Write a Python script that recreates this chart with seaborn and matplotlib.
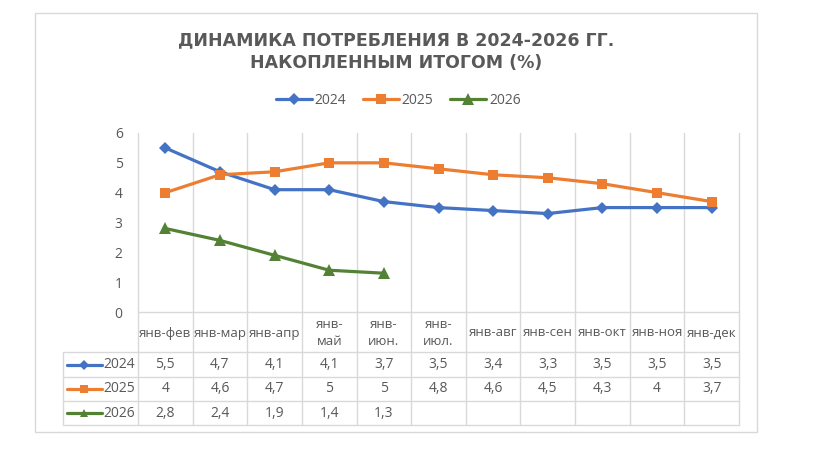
import numpy as np
import pandas as pd
import matplotlib.pyplot as plt
import seaborn as sns
from matplotlib.patches import Rectangle

# Data
periods = ["янв-фев", "янв-мар", "янв-апр", "янв-май", "янв-июн.", "янв-июл.",
           "янв-авг", "янв-сен", "янв-окт", "янв-ноя", "янв-дек"]
period_labels = ["янв-фев", "янв-мар", "янв-апр", "янв-\nмай", "янв-\nиюн.", "янв-\nиюл.",
                 "янв-авг", "янв-сен", "янв-окт", "янв-ноя", "янв-дек"]
years = ["2024", "2025", "2026"]
v2024 = [5.5, 4.7, 4.1, 4.1, 3.7, 3.5, 3.4, 3.3, 3.5, 3.5, 3.5]
v2025 = [4, 4.6, 4.7, 5, 5, 4.8, 4.6, 4.5, 4.3, 4, 3.7]
v2026 = [2.8, 2.4, 1.9, 1.4, 1.3, np.nan, np.nan, np.nan, np.nan, np.nan, np.nan]

colors = {"2024": "#4472C4", "2025": "#ED7D31", "2026": "#548235"}
markers = {"2024": "D", "2025": "s", "2026": "^"}
msizes = {"2024": 6.5, "2025": 7.5, "2026": 8}

sns.set_theme(style="white")
plt.rcParams['font.family'] = ['Open Sans', 'DejaVu Sans']
txt = "#595959"
grid = "#D9D9D9"

rows = []
for y, vals in zip(years, [v2024, v2025, v2026]):
    for i, (p, v) in enumerate(zip(periods, vals)):
        rows.append({"year": y, "pos": i, "period": p, "value": v})
df = pd.DataFrame(rows).dropna()

W, H = 831, 470
fig = plt.figure(figsize=(W / 100, H / 100), dpi=100)

# pixel layout
pl, pr, pt, pb = 138, 739, 133, 312
colw = (pr - pl) / len(periods)

def fx(x):
    return x / W

def fy(y):
    return 1 - y / H

# overlay for frame and data table (pixel coords)
tax = fig.add_axes([0, 0, 1, 1])
tax.set_xlim(0, W)
tax.set_ylim(H, 0)
tax.axis("off")
tax.add_patch(Rectangle((35, 13), 722, 419, fill=False, ec=grid, lw=1))

ax = fig.add_axes([fx(pl), fy(pb), (pr - pl) / W, (pb - pt) / H])
for y in years:
    sub = df[df["year"] == y]
    sns.lineplot(data=sub, x="pos", y="value", ax=ax, color=colors[y], lw=2.3,
                 marker=markers[y], markersize=msizes[y], markeredgewidth=0,
                 legend=False, label=y)
ax.set_xlim(-0.5, len(periods) - 0.5)
ax.set_ylim(0, 6)
ax.set_yticks(range(7))
ax.set_xticks([])
ax.set_xlabel("")
ax.set_ylabel("")
ax.tick_params(axis="y", length=0, pad=11, labelsize=10, labelcolor=txt)
for s in ax.spines.values():
    s.set_visible(False)
ax.patch.set_alpha(0)

# vertical grid lines through plot and table
for k in range(len(periods) + 1):
    x = pl + k * colw
    tax.plot([x, x], [pt, 425], color=grid, lw=1, zorder=0)
tax.plot([63, 63], [352, 425], color=grid, lw=1, zorder=0)
tax.plot([pl, pr], [pb, pb], color=grid, lw=1, zorder=0)
for yy in [352, 377, 401, 425]:
    tax.plot([63, pr], [yy, yy], color=grid, lw=1, zorder=0)

# category header row
for i, lab in enumerate(period_labels):
    tax.text(pl + (i + 0.5) * colw, 333, lab, ha="center", va="center",
             fontsize=9.5, color=txt, linespacing=1.35)

# data rows
series = {"2024": v2024, "2025": v2025, "2026": v2026}
for r, y in enumerate(years):
    yc = 364.5 + r * 24.3
    tax.plot([67, 102], [yc, yc], color=colors[y], lw=2.3)
    tax.plot([84], [yc], marker=markers[y], color=colors[y],
             markersize=msizes[y] * 0.75, markeredgewidth=0)
    tax.text(135, yc, y, ha="right", va="center", fontsize=10, color=txt)
    for i, v in enumerate(series[y]):
        if not np.isnan(v):
            s = f"{v:g}".replace(".", ",")
            tax.text(pl + (i + 0.5) * colw, yc, s, ha="center", va="center",
                     fontsize=10, color=txt)

# title
for yy, line in [(40, "ДИНАМИКА ПОТРЕБЛЕНИЯ В 2024-2026 ГГ."), (63, "НАКОПЛЕННЫМ ИТОГОМ (%)")]:
    fig.text(fx(396), fy(yy), line, ha="center", va="center", family="DejaVu Sans",
             fontsize=12.5, fontweight="bold", color=txt)

# legend
fig.legend(handles=ax.lines[:3], labels=years, loc="center", bbox_to_anchor=(fx(398), fy(100)),
           ncol=3, frameon=False, fontsize=10, labelcolor=txt, handlelength=2.6,
           handletextpad=0.2, columnspacing=1.2)

fig.savefig("out.png", dpi=100)
